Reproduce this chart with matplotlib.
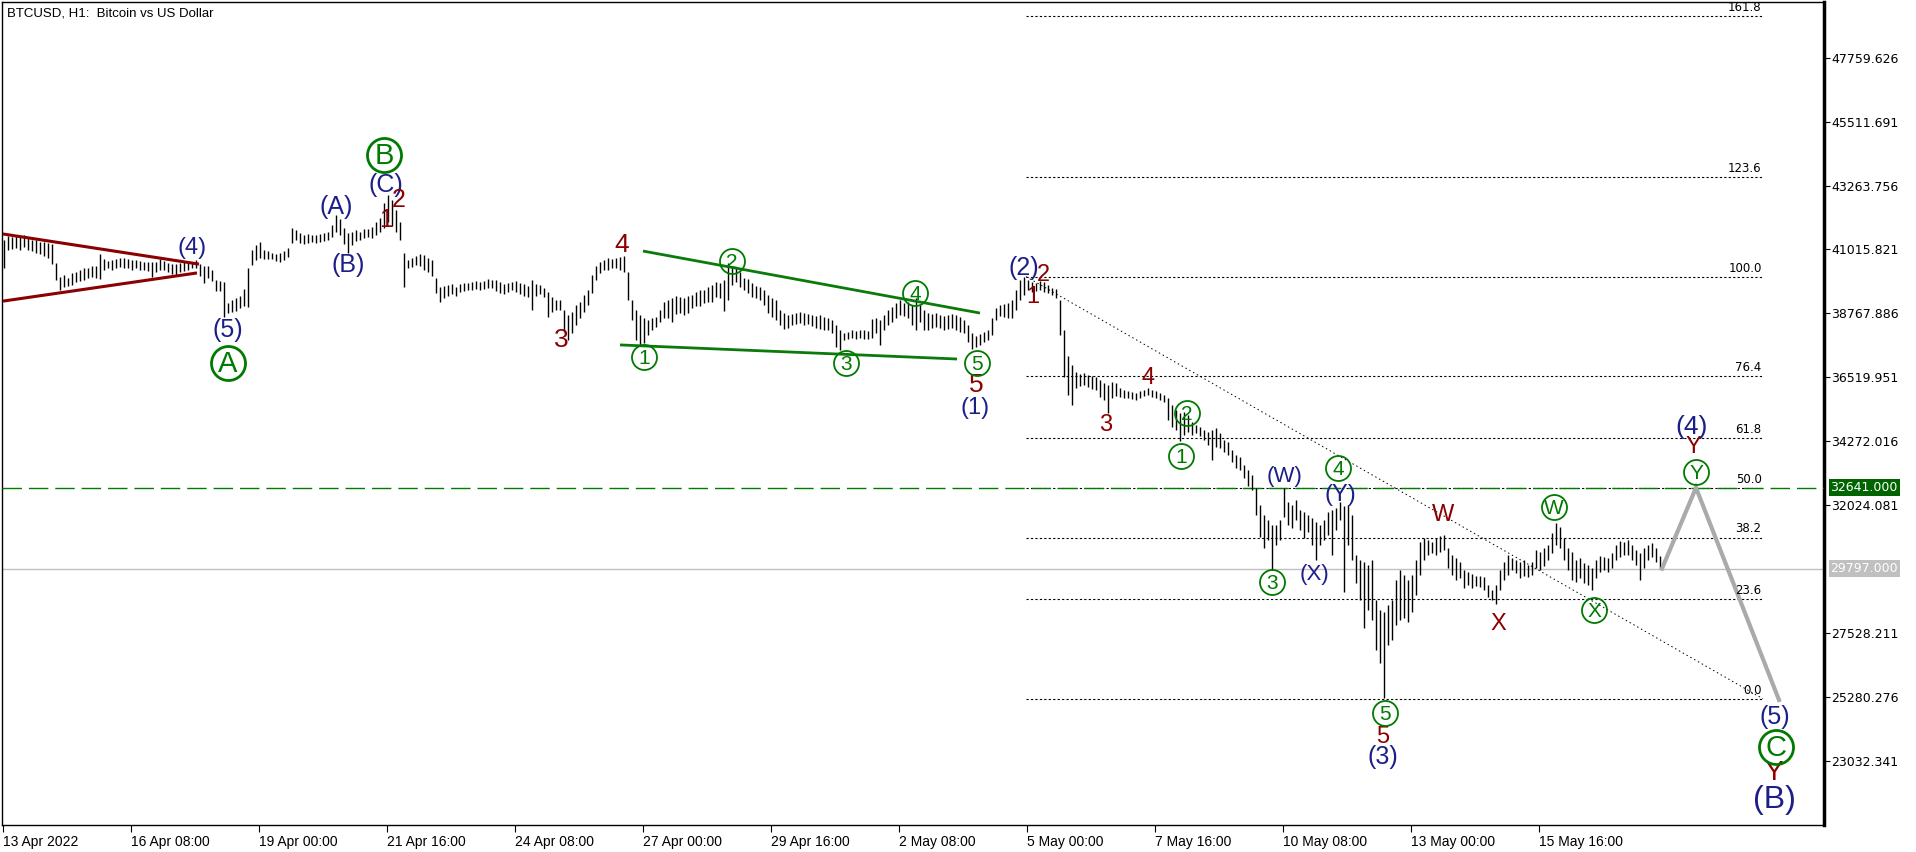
import numpy as np
import matplotlib
matplotlib.use("Agg")
import matplotlib.pyplot as plt
import matplotlib.transforms as mtransforms

# ---------------- data (2-hour bars, hour 0 = 13 Apr 2022 16:00) ----------------
highs_1 = [41350, 41490, 41450, 41520, 41450, 41520, 41420, 41350, 41350, 41280,
           41280, 41240, 41210, 40540, 40050, 40120, 40010, 40190, 40220, 40290,
           40360, 40360, 40430, 40430, 40860, 40680, 40610, 40650, 40680, 40720,
           40720, 40680, 40650, 40650, 40610, 40570, 40570, 40570, 40570, 40680,
           40610, 40540, 40500, 40500, 40540, 40570, 40540, 40570, 40650, 40500,
           40430, 40430, 40290, 39940, 39910, 39870, 39130, 39240, 39310, 39380,
           39630, 40360, 41000, 41170, 41280, 41000, 40960, 40890, 40860, 40890]
lows_1 = [40360, 41000, 41030, 41070, 41000, 41100, 41000, 40960, 40890, 40860,
          40790, 40720, 40500, 39940, 39590, 39700, 39730, 39770, 39870, 39910,
          39940, 40010, 40050, 40010, 39980, 40290, 40360, 40290, 40360, 40400,
          40360, 40360, 40290, 40360, 40290, 40290, 40260, 40050, 40220, 40290,
          40290, 40220, 40150, 40120, 40220, 40260, 40290, 40360, 40360, 40080,
          39840, 40010, 39910, 39560, 39560, 38640, 38780, 38820, 38850, 38960,
          39030, 38990, 40470, 40650, 40720, 40680, 40680, 40680, 40610, 40570]
highs_2 = [40960, 41070, 41770, 41700, 41590, 41520, 41560, 41520, 41520, 41560,
           41590, 41630, 41870, 42230, 42090, 41770, 41590, 41630, 41700, 41630,
           41740, 41740, 41810, 41980, 42120, 42650, 42930, 42750, 42400, 41980,
           40890, 40650, 40720, 40790, 40860, 40820, 40720, 40650, 40010, 39700,
           39730, 39770, 39800, 39700, 39800, 39840, 39840, 39870, 39910, 39870,
           39910, 39980, 39940, 39940, 39870, 39800, 39840, 39870, 39910, 39840,
           39800, 39730, 39940, 39800, 39770, 39660, 39520, 39340]
lows_2 = [40650, 40750, 41240, 41350, 41240, 41210, 41240, 41280, 41240, 41280,
          41310, 41350, 41450, 41630, 41520, 41210, 40890, 41170, 41310, 41350,
          41420, 41450, 41420, 41520, 41630, 41770, 41980, 41840, 41630, 41350,
          39700, 40360, 40400, 40470, 40430, 40290, 40220, 40080, 39480, 39170,
          39310, 39380, 39450, 39380, 39520, 39560, 39590, 39590, 39630, 39590,
          39630, 39660, 39660, 39560, 39480, 39450, 39520, 39590, 39520, 39450,
          39380, 39340, 38890, 39380, 39450, 39340, 38640, 38820]
highs_3 = [39240, 39240, 38890, 38710, 38820, 39060, 39170, 39410, 39590, 40120,
           40430, 40570, 40650, 40720, 40680, 40720, 40750, 40790, 40220, 39240,
           38890, 38710, 38610, 38540, 38610, 38640, 38890, 39170, 39240, 39310,
           39380, 39340, 39310, 39380, 39410, 39520, 39590, 39590, 39700, 39770,
           39870, 39840, 39940, 40540, 40430, 40360, 40220, 40010, 39980, 39840,
           39730, 39700, 39590, 39410, 39310, 39240, 38890, 38780, 38710, 38750,
           38780, 38820, 38780, 38750, 38710, 38680, 38710, 38640, 38610, 38540,
           38360]
lows_3 = [38890, 38890, 38180, 37830, 38080, 38360, 38610, 38820, 39060, 39480,
          39940, 40190, 40290, 40290, 40360, 40360, 40290, 40220, 39240, 38540,
          37830, 37660, 37730, 38010, 38180, 38290, 38470, 38610, 38610, 38470,
          38750, 38780, 38710, 38780, 38960, 39030, 39030, 39130, 39170, 39170,
          39340, 39310, 38850, 39240, 39770, 39870, 39700, 39590, 39480, 39340,
          39310, 39240, 39060, 38780, 38640, 38540, 38360, 38220, 38250, 38360,
          38400, 38430, 38360, 38400, 38330, 38250, 38220, 38180, 38180, 38080,
          37590]
highs_4 = [38180, 38080, 38110, 38180, 38150, 38180, 38180, 38150, 38570, 38610,
           38540, 38710, 38890, 38990, 39130, 39240, 39130, 39170, 39060, 39310,
           39060, 38890, 38780, 38750, 38780, 38710, 38680, 38710, 38750, 38710,
           38640, 38540, 38360, 38080, 37970, 38040, 38110, 38180, 38610, 38960,
           39060, 39100, 39130, 39240, 39590, 39940, 40050, 39940, 39870, 39840,
           39910, 39870, 39770, 39660, 39630, 39240, 38180, 37270, 36950, 36710,
           36640, 36670, 36600, 36570, 36530, 36430, 36320, 36250]
lows_4 = [37480, 37830, 37870, 37900, 37870, 37900, 37870, 37870, 37900, 38080,
          37660, 38180, 38360, 38470, 38610, 38710, 38680, 38610, 38360, 38180,
          38470, 38180, 38180, 38250, 38290, 38250, 38180, 38220, 38250, 38180,
          38110, 38080, 37760, 37520, 37590, 37660, 37760, 37830, 38010, 38540,
          38680, 38640, 38610, 38610, 38890, 39240, 39410, 39590, 39520, 39560,
          39590, 39520, 39480, 39410, 39310, 38010, 36530, 35900, 35550, 36150,
          36220, 36250, 36180, 36110, 36080, 35830, 35720, 35270]
highs_5 = [36360, 36320, 36150, 36080, 36040, 36010, 35970, 36040, 36080, 36150,
           36080, 36040, 35970, 35900, 35790, 35550, 35370, 35270, 35300, 35200,
           34950, 34840, 34770, 34670, 34600, 34670, 34740, 34560, 34320, 34250,
           33970, 33790, 33720, 33440, 33260, 33090, 32630, 32030, 31680, 31510,
           31330, 31330, 31510, 32630, 32140, 32030, 32210, 31860, 31790, 31680,
           31580, 31440, 31330, 31510, 31790, 31860, 31930, 32140, 32000, 32030,
           31680, 30280, 30100, 30030, 29920, 30100, 28690, 28340, 28270, 28520]
lows_5 = [35790, 35860, 35830, 35790, 35790, 35760, 35720, 35790, 35860, 35900,
          35830, 35790, 35720, 35650, 35020, 34770, 34670, 34280, 34490, 34600,
          34490, 34560, 34460, 34320, 34140, 33610, 34070, 34040, 33900, 33790,
          33540, 33330, 33260, 32980, 32700, 32560, 31680, 30910, 30520, 30800,
          29750, 30630, 30800, 31610, 31330, 31220, 31510, 31150, 30870, 31080,
          30630, 30100, 30630, 30800, 30980, 30280, 31150, 31510, 28980, 30630,
          30100, 29290, 28690, 27710, 28340, 27990, 26940, 26480, 25250, 27110]
highs_6 = [28690, 29400, 29750, 29570, 29400, 29570, 30100, 30730, 30870, 30800,
           30730, 30870, 30940, 30980, 30520, 30280, 30170, 30030, 29750, 29680,
           29610, 29540, 29540, 29500, 29220, 29050, 29220, 29750, 30030, 30280,
           30170, 30100, 30030, 30100, 29920, 30030, 30450, 30380, 30520, 30630,
           31050, 31400, 31260, 30870, 30520, 30380, 30100, 30170, 29990, 29920,
           29820, 30100, 30240, 30210, 30170, 30350, 30630, 30770, 30730, 30800,
           30630, 30450, 30350, 30520, 30630, 30700, 30520, 30240]
lows_6 = [27290, 27820, 27990, 28060, 27920, 28270, 28870, 29570, 30100, 30280,
          30350, 30280, 30380, 30450, 29820, 29570, 29400, 29470, 29120, 29220,
          29120, 29190, 29150, 29050, 28800, 28690, 28550, 29050, 29400, 29570,
          29750, 29640, 29470, 29540, 29500, 29570, 29820, 29750, 29890, 30100,
          30350, 30630, 30520, 30100, 29750, 29400, 29330, 29470, 29290, 29220,
          29050, 29470, 29680, 29750, 29680, 29820, 30100, 30210, 30280, 30280,
          30100, 29920, 29400, 29820, 30100, 30210, 30030, 29790]

current_price = 29797.0
target_price = 32641.0

tick_hours = [0, 64, 128, 192, 256, 320, 384, 448, 512, 576, 640, 704, 768]
tick_labels = ["13 Apr 2022", "16 Apr 08:00", "19 Apr 00:00", "21 Apr 16:00",
               "24 Apr 08:00", "27 Apr 00:00", "29 Apr 16:00", "2 May 08:00",
               "5 May 00:00", "7 May 16:00", "10 May 08:00", "13 May 00:00",
               "15 May 16:00"]
price_ticks = [47759.626, 45511.691, 43263.756, 41015.821, 38767.886, 36519.951,
               34272.016, 32024.081, 27528.211, 25280.276, 23032.341]

fib_ratios = [0.0, 23.6, 38.2, 50.0, 61.8, 76.4, 100.0, 123.6, 161.8]
fib_high = 40062.0
fib_low = 25220.0
fib_start_h = 511.5
fib_end_h = 880.0

proj_hours = [829.5, 846.5, 888.0]
proj_prices = [29797, 32641, 25180]

tri_upper = ([0, 98], [41560, 40500])
tri_lower = ([0, 97], [39200, 40190])
wedge_upper = ([320, 488.5], [40960, 38780])
wedge_lower = ([308.5, 477], [37660, 37165])

blue_labels = [("(4)", 94.5, 41067, 17), ("(5)", 112.5, 38184, 18),
               ("(A)", 166.5, 42508, 18), ("(B)", 172.5, 40469, 18),
               ("(C)", 191.5, 43281, 18), ("(1)", 486, 35443, 17),
               ("(2)", 510.5, 40364, 18), ("(W)", 641, 33018, 16),
               ("(Y)", 668.5, 32385, 17), ("(X)", 656, 29573, 16),
               ("(3)", 690, 23175, 18), ("(4)", 844.5, 34775, 19),
               ("(5)", 886, 24581, 18), ("(B)", 885.5, 21664, 23)]
red_labels = [("1", 191.5, 42051, 18), ("2", 198, 42754, 18), ("3", 279, 37833, 19),
              ("4", 309.5, 41172, 19), ("5", 486.5, 36251, 19), ("1", 515, 39345, 17),
              ("2", 520, 40118, 17), ("3", 551.5, 34846, 17), ("4", 572.5, 36497, 17),
              ("5", 690, 23878, 17), ("W", 720, 31682, 17), ("X", 747.5, 27850, 17),
              ("Y", 845, 34072, 17), ("Y", 885.5, 22613, 20)]
green_small = [("1", 320.5, 37236), ("2", 364.5, 40610), ("3", 421.5, 37024),
               ("4", 456, 39485), ("5", 487, 37024), ("2", 592, 35267),
               ("1", 589, 33756), ("3", 634.5, 29327), ("4", 667.5, 33334),
               ("5", 691, 24722), ("W", 775.5, 31963), ("X", 795.5, 28342),
               ("Y", 846.5, 33193)]
green_big = [("A", 112.5, 37024), ("B", 190.5, 44336), ("C", 886.5, 23527)]

# ---------------- styling ----------------
BLUE = "#1b1f87"
RED = "#8b0000"
GREEN = "#007a00"
FONT = "Liberation Sans"

W, H = 1916, 852
L, R, T, B = 2, 1824, 2, 825
fig = plt.figure(figsize=(W / 100, H / 100), dpi=100)
fig.patch.set_facecolor("white")
ax = fig.add_axes([L / W, (H - B) / H, (R - L) / W, (B - T) / H])
ax.set_xlim(-0.5, 910.5)
ax.set_ylim(20785, 49714)

highs = np.array(highs_1 + highs_2 + highs_3 + highs_4 + highs_5 + highs_6)
lows = np.array(lows_1 + lows_2 + lows_3 + lows_4 + lows_5 + lows_6)
bar_hours = 2 * np.arange(len(highs)) + 0.5

# horizontal lines
ax.axhline(current_price, color="#c0c0c0", lw=1.0, zorder=1)

# fibonacci
fib_levels = [fib_low + r / 100.0 * (fib_high - fib_low) for r in fib_ratios]
for r, lv in zip(fib_ratios, fib_levels):
    ax.plot([fib_start_h, fib_end_h], [lv, lv], color="black", lw=0.8,
            linestyle=(0, (2, 2)), zorder=2)
    ax.annotate(f"{r:.1f}", (fib_end_h, lv), xytext=(-1, 1.5),
                textcoords="offset points", ha="right", va="bottom",
                fontsize=8.5, color="black", zorder=6)
ax.plot([fib_start_h, fib_end_h], [fib_high, fib_low], color="black", lw=0.7,
        linestyle=(0, (1.5, 3)), zorder=2)

line = ax.axhline(target_price, color=GREEN, lw=1.0, zorder=3)
line.set_dashes([14, 5])

# price bars
ax.vlines(bar_hours, lows, highs, color="black", lw=1.0, zorder=4)

# trend lines
ax.plot(*tri_upper, color="#8b0000", lw=2.2, zorder=5, solid_capstyle="butt")
ax.plot(*tri_lower, color="#8b0000", lw=2.2, zorder=5, solid_capstyle="butt")
ax.plot(*wedge_upper, color="#0a7a0a", lw=2.0, zorder=5, solid_capstyle="butt")
ax.plot(*wedge_lower, color="#0a7a0a", lw=2.0, zorder=5, solid_capstyle="butt")

# projection
ax.plot(proj_hours, proj_prices, color="#aaaaaa", lw=3.0, zorder=5,
        solid_joinstyle="miter")

# wave labels
for t, h, p, s in blue_labels:
    ax.text(h, p, t, color=BLUE, fontsize=s, family=FONT, ha="center",
            va="center", zorder=7)
for t, h, p, s in red_labels:
    ax.text(h, p, t, color=RED, fontsize=s, family=FONT, ha="center",
            va="center", zorder=7)
for t, h, p in green_small:
    ax.plot(h, p, "o", ms=18, mfc="none", mec=GREEN, mew=1.3, zorder=7)
    ax.annotate(t, (h, p), xytext=(0, -1), textcoords="offset points",
                color=GREEN, fontsize=15, family=FONT, ha="center",
                va="center", zorder=7)
for t, h, p in green_big:
    ax.plot(h, p, "o", ms=24.5, mfc="none", mec=GREEN, mew=2.0, zorder=7)
    ax.annotate(t, (h, p), xytext=(0, -1), textcoords="offset points",
                color=GREEN, fontsize=21, family=FONT, ha="center",
                va="center", zorder=7)

# axes styling
for side in ["left", "top", "bottom"]:
    ax.spines[side].set_linewidth(1.0)
    ax.spines[side].set_color("black")
ax.spines["right"].set_linewidth(2.5)
ax.yaxis.tick_right()
ax.set_yticks(price_ticks)
ax.set_yticklabels([f"{v:.3f}" for v in price_ticks], fontsize=9,
                   family="DejaVu Sans")
ax.tick_params(axis="y", direction="out", length=4, width=0.8, pad=1)
ax.set_xticks(tick_hours)
ax.set_xticklabels(tick_labels, fontsize=10, family=FONT, ha="left")
ax.tick_params(axis="x", direction="out", length=5, width=0.8, pad=2)

trans = mtransforms.blended_transform_factory(ax.transAxes, ax.transData)
ax.text(1.0035, target_price, f"{target_price:.3f}", transform=trans,
        color="white", fontsize=9, family="DejaVu Sans", ha="left", va="center",
        bbox=dict(boxstyle="square,pad=0.15", fc="#006400", ec="none"),
        zorder=10, clip_on=False)
ax.text(1.0035, current_price, f"{current_price:.3f}", transform=trans,
        color="white", fontsize=9, family="DejaVu Sans", ha="left", va="center",
        bbox=dict(boxstyle="square,pad=0.15", fc="#c0c0c0", ec="none"),
        zorder=10, clip_on=False)

fig.text(7 / W, 1 - 13 / H, "BTCUSD, H1:  Bitcoin vs US Dollar", fontsize=9.5,
         family=FONT, ha="left", va="center", color="black")

fig.savefig("out.png", dpi=100, facecolor="white")
